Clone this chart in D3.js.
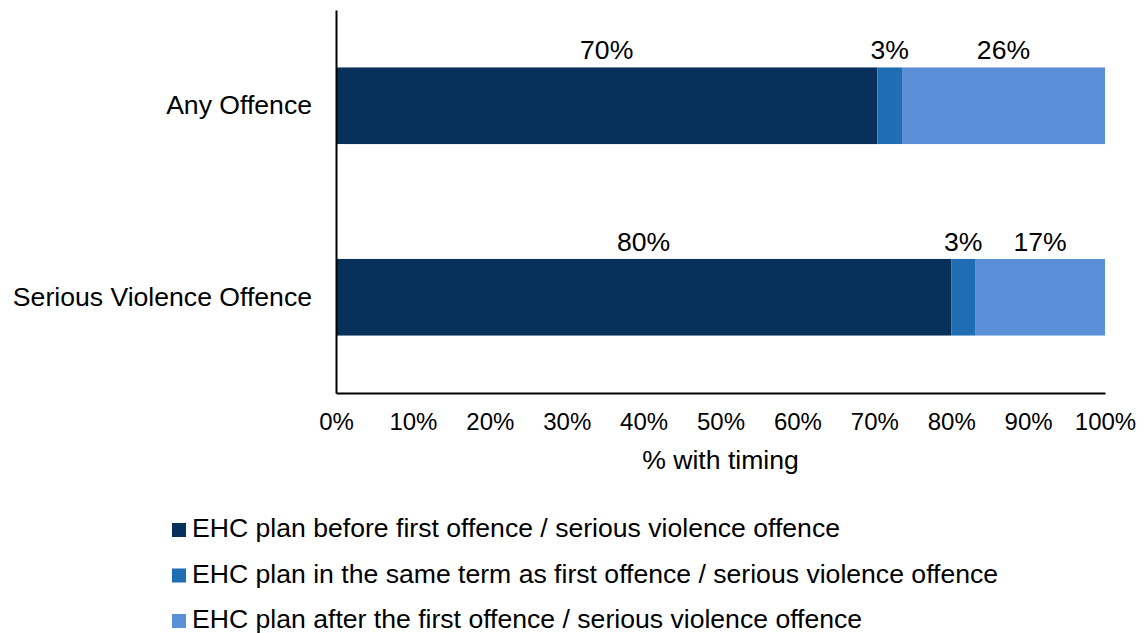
<!DOCTYPE html>
<html><head><meta charset="utf-8">
<script src="https://cdn.jsdelivr.net/npm/d3@7"></script>
<style>body{margin:0;background:#fff}svg{display:block;font-family:"Liberation Sans",Arial,sans-serif}</style>
</head><body><svg id="c" width="1146" height="633"></svg>
<script>
const categories = ["Any Offence", "Serious Violence Offence"];
const seriesNames = [
  "EHC plan before first offence / serious violence offence",
  "EHC plan in the same term as first offence / serious violence offence",
  "EHC plan after the first offence / serious violence offence"
];
const before = [70.4, 80.0];
const sameTerm = [3.2, 3.1];
const after = [26.4, 16.9];
const labelsText = [["70%", "3%", "26%"], ["80%", "3%", "17%"]];
const xTicks = [0, 10, 20, 30, 40, 50, 60, 70, 80, 90, 100];
const colors = ["#07305a", "#1f6db3", "#5b90d9"];

const FS = 26.6;
const svg = d3.select("#c");
const m = {l: 336, r: 1105, t: 10, b: 393};
const x = d3.scaleLinear().domain([0, 100]).range([m.l, m.r]);
const y = d3.scaleBand().domain(categories).range([m.t, m.b]).paddingInner(0.6).paddingOuter(0.3);

const data = categories.map((c, i) => ({cat: c, vals: [before[i], sameTerm[i], after[i]], labels: labelsText[i]}));
const g = svg.append("g");
data.forEach(d => {
  let acc = 0;
  d.vals.forEach((v, j) => {
    const x0 = acc, x1 = acc + v; acc = x1;
    g.append("rect").attr("x", x(x0)).attr("y", y(d.cat)).attr("width", x(x1) - x(x0))
      .attr("height", y.bandwidth()).attr("fill", colors[j]);
    g.append("text").attr("x", (x(x0) + x(x1)) / 2).attr("y", y(d.cat) - 8)
      .attr("text-anchor", "middle").attr("font-size", FS).attr("fill", "#000").text(d.labels[j]);
  });
});

// axes
const xa = svg.append("g").attr("transform", `translate(0,${m.b})`)
  .call(d3.axisBottom(x).tickValues(xTicks).tickFormat(d => d + "%").tickSize(0).tickPadding(20));
xa.select(".domain").attr("stroke", "#000").attr("stroke-width", 2);
xa.selectAll("text").attr("font-size", 24).attr("font-family", "Liberation Sans, Arial, sans-serif").attr("fill", "#000");
const ya = svg.append("g").attr("transform", `translate(${m.l},0)`)
  .call(d3.axisLeft(y).tickSize(0).tickPadding(24));
ya.select(".domain").attr("stroke", "#000").attr("stroke-width", 2);
ya.selectAll("text").attr("font-size", FS).attr("font-family", "Liberation Sans, Arial, sans-serif").attr("fill", "#000");

svg.append("text").attr("x", (m.l + m.r) / 2).attr("y", 469).attr("text-anchor", "middle")
  .attr("font-size", FS).text("% with timing");

const lg = svg.append("g");
seriesNames.forEach((s, i) => {
  const yy = 523 + i * 45.5;
  lg.append("rect").attr("x", 172).attr("y", yy).attr("width", 14).attr("height", 14).attr("fill", colors[i]);
  lg.append("text").attr("x", 192).attr("y", yy + 14).attr("font-size", FS).text(s);
});
</script></body></html>
